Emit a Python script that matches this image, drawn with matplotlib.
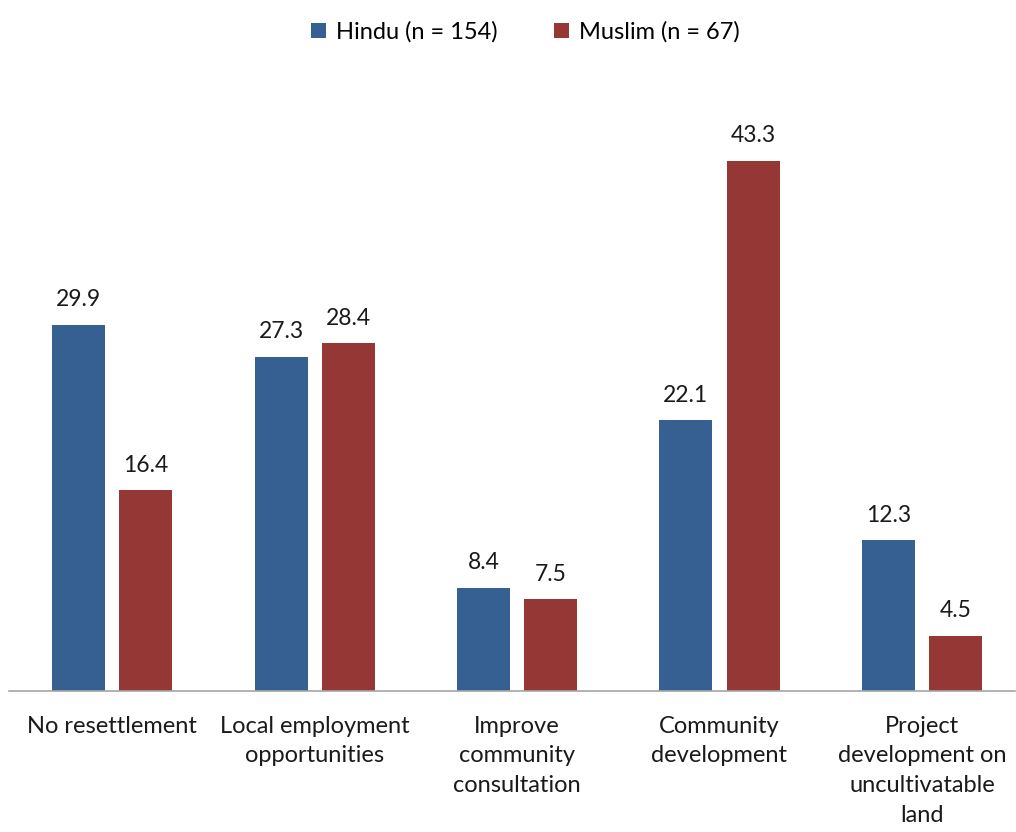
import numpy as np
import matplotlib.pyplot as plt

plt.rcParams['font.family'] = ['Lato', 'DejaVu Sans']

categories = ['No resettlement', 'Local employment\nopportunities', 'Improve\ncommunity\nconsultation',
              'Community\ndevelopment', 'Project\ndevelopment on\nuncultivatable\nland']
hindu = [29.9, 27.3, 8.4, 22.1, 12.3]
muslim = [16.4, 28.4, 7.5, 43.3, 4.5]
series_names = ['Hindu (n = 154)', 'Muslim (n = 67)']

blue = '#376092'
red = '#953735'

fig = plt.figure(figsize=(10.16, 8.32), dpi=100)
ax = fig.add_axes([9 / 1016, 141 / 832, 1006 / 1016, 591 / 832])

x = np.arange(len(categories))
w = 0.262
off = 0.166
b1 = ax.bar(x - off, hindu, w, color=blue, label=series_names[0])
b2 = ax.bar(x + off, muslim, w, color=red, label=series_names[1])

# value labels above each bar
for bars, vals in ((b1, hindu), (b2, muslim)):
    for b, v in zip(bars, vals):
        ax.text(b.get_x() + b.get_width() / 2, v + 1.2, f'{v:.1f}', ha='center', va='bottom',
                fontsize=16.5, color='#1a1a1a')

ax.set_xlim(-0.51, 4.46)
ax.set_ylim(0, 48.28)
ax.set_yticks([])
ax.set_xticks(x)
ax.set_xticklabels(categories, fontsize=17, color='#1a1a1a', linespacing=1.5, va='top')
ax.tick_params(axis='x', length=0, pad=18)
for s in ['top', 'right', 'left']:
    ax.spines[s].set_visible(False)
ax.spines['bottom'].set_color('#a6a6a6')
ax.spines['bottom'].set_linewidth(1.2)

fig.legend(loc='upper center', bbox_to_anchor=(0.517, 1.0), ncol=2, frameon=False, fontsize=17,
           handlelength=0.65, handleheight=0.65, handletextpad=0.4, columnspacing=2.4)

fig.savefig('out.png', dpi=100)
